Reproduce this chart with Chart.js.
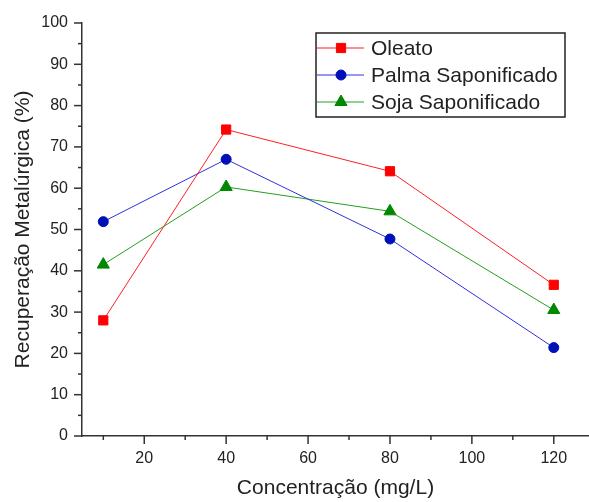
<!DOCTYPE html>
<html>
<head>
<meta charset="utf-8">
<script src="https://cdn.jsdelivr.net/npm/chart.js@4/dist/chart.umd.min.js"></script>
<style>
  body { margin: 0; background: #fff; }
  #wrap { width: 589px; height: 502px; }
</style>
</head>
<body>
<div id="wrap"><canvas id="myChart" width="589" height="502"></canvas></div>
<script>
// concentration (mg/L) and recovery (%) per collector
const concentracoes = [10, 40, 80, 120];
const oleato = [28.0, 74.2, 64.1, 36.6];
const palma = [51.9, 67.0, 47.7, 21.4];
const soja = [41.5, 60.3, 54.4, 30.5];
const nomes = ['Oleato', 'Palma Saponificado', 'Soja Saponificado'];

const FONT = "'Liberation Sans', Arial, sans-serif";
const TEXT = '#222';

function pontos(valores) {
    return concentracoes.map((c, i) => ({ x: c, y: valores[i] }));
}

// major / minor ticks drawn outside the axes
const ticksPlugin = {
    id: 'ticksOut',
    afterDraw(chart) {
        const ctx = chart.ctx;
        const xs = chart.scales.x, ys = chart.scales.y;
        ctx.save();
        ctx.strokeStyle = '#333';
        ctx.lineWidth = 1.5;
        xs.ticks.forEach(t => {
            const px = xs.getPixelForValue(t.value);
            const len = t.value % 20 === 0 ? 8 : 4;
            ctx.beginPath();
            ctx.moveTo(px, xs.top);
            ctx.lineTo(px, xs.top + len);
            ctx.stroke();
        });
        ys.ticks.forEach(t => {
            const py = ys.getPixelForValue(t.value);
            const len = t.value % 10 === 0 ? 8 : 4;
            ctx.beginPath();
            ctx.moveTo(ys.right, py);
            ctx.lineTo(ys.right - len, py);
            ctx.stroke();
        });
        ctx.restore();
    }
};

// boxed legend in the upper right
const legendPlugin = {
    id: 'legendBox',
    afterDraw(chart) {
        const ctx = chart.ctx;
        ctx.save();
        ctx.strokeStyle = '#222';
        ctx.lineWidth = 1.5;
        ctx.strokeRect(316, 33, 249, 84);
        ctx.font = '21px ' + FONT;
        ctx.textBaseline = 'middle';
        chart.data.datasets.forEach((ds, i) => {
            const y = 48 + 27 * i;
            ctx.strokeStyle = ds.borderColor;
            ctx.lineWidth = 1;
            ctx.beginPath();
            ctx.moveTo(317, y);
            ctx.lineTo(364, y);
            ctx.stroke();
            ctx.fillStyle = ds.pointBackgroundColor;
            ctx.strokeStyle = ds.pointBorderColor;
            Chart.helpers.drawPoint(ctx, {
                pointStyle: ds.pointStyle,
                radius: ds.pointRadius,
                borderWidth: 1
            }, 341, y);
            ctx.fillStyle = TEXT;
            ctx.fillText(ds.label, 371, y + 1);
        });
        ctx.restore();
    }
};

function serie(label, valores, linha, marca, estilo, raio) {
    return {
        label: label,
        data: pontos(valores),
        borderColor: linha,
        borderWidth: 1,
        backgroundColor: marca,
        pointBackgroundColor: marca,
        pointBorderColor: marca,
        pointBorderWidth: 1,
        pointStyle: estilo,
        pointRadius: raio,
        tension: 0
    };
}

var ctx = document.getElementById('myChart').getContext('2d');
var myChart = new Chart(ctx, {
    type: 'line',
    data: {
        datasets: [
            serie(nomes[0], oleato, '#ff2020', '#ff0000', 'rect', 6.5),
            serie(nomes[1], palma, '#3030e0', '#0010b8', 'circle', 5),
            serie(nomes[2], soja, '#20a020', '#008800', 'triangle', 7)
        ]
    },
    options: {
        responsive: false,
        devicePixelRatio: 1,
        animation: false,
        layout: { autoPadding: false, padding: { top: 23, right: 0, left: 0, bottom: 0 } },
        plugins: {
            legend: { display: false },
            tooltip: { enabled: false }
        },
        scales: {
            x: {
                type: 'linear',
                min: 4.8,
                max: 128.6,
                afterFit(scale) {
                    scale.height = 66;
                    scale.paddingLeft = 0;
                    scale.paddingRight = 0;
                },
                border: { display: true, color: '#333', width: 1.5 },
                grid: { drawOnChartArea: false, drawTicks: false },
                ticks: {
                    stepSize: 10,
                    includeBounds: false,
                    autoSkip: false,
                    maxRotation: 0,
                    padding: 13,
                    color: TEXT,
                    font: { family: FONT, size: 16 },
                    callback: v => (v % 20 === 0 ? v : '')
                },
                title: {
                    display: true,
                    text: 'Concentração (mg/L)',
                    color: TEXT,
                    font: { family: FONT, size: 21 },
                    padding: { top: 0, bottom: 1 }
                }
            },
            y: {
                min: 0,
                max: 100,
                afterFit(scale) {
                    scale.width = 82;
                    scale.paddingTop = 0;
                    scale.paddingBottom = 0;
                },
                border: { display: true, color: '#333', width: 1.5 },
                grid: { drawOnChartArea: false, drawTicks: false },
                ticks: {
                    stepSize: 5,
                    autoSkip: false,
                    padding: 14,
                    color: TEXT,
                    font: { family: FONT, size: 16 },
                    callback: v => (v % 10 === 0 ? v : '')
                },
                title: {
                    display: true,
                    text: 'Recuperação Metalúrgica (%)',
                    color: TEXT,
                    font: { family: FONT, size: 21 },
                    padding: { top: 11, bottom: 0 }
                }
            }
        }
    },
    plugins: [ticksPlugin, legendPlugin]
});
</script>
</body>
</html>
